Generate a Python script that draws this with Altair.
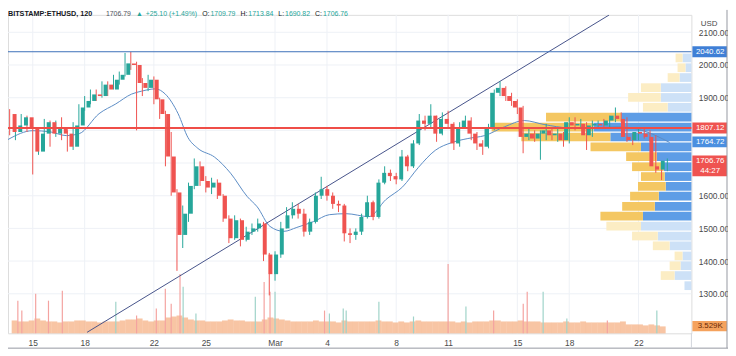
import altair as alt
import pandas as pd

FONT = "Liberation Sans"

# ---------------- data ----------------
# 8-hour candles (resampled view of the 2h chart), first bar starts 2021-02-13 16:00
bar_start = "2021-02-13 16:00"
first_open = 1850
closes = [1795, 1815, 1840, 1805, 1735, 1790, 1825, 1790, 1810, 1790,
          1750, 1815, 1870, 1890, 1910, 1905, 1940, 1925, 1955, 1970,
          2005, 2000, 1945, 1930, 1955, 1895, 1850, 1720, 1610, 1480,
          1545, 1630, 1690, 1645, 1625, 1640, 1600, 1530, 1470, 1525,
          1465, 1490, 1500, 1515, 1420, 1360, 1420, 1500, 1540, 1560,
          1545, 1490, 1520, 1600, 1620, 1600, 1575, 1570, 1485, 1480,
          1490, 1535, 1580, 1535, 1640, 1670, 1660, 1650, 1720, 1690,
          1760, 1830, 1820, 1845, 1790, 1835, 1820, 1760, 1810, 1830,
          1790, 1760, 1750, 1805, 1915, 1930, 1905, 1890, 1870, 1780,
          1790, 1775, 1790, 1800, 1785, 1790, 1770, 1825, 1815, 1820,
          1785, 1815, 1820, 1815, 1830, 1845, 1835, 1780, 1770, 1795,
          1790, 1780, 1690, 1680, 1707]
highs = [1865, 1835, 1850, 1845, 1810, 1800, 1835, 1830, 1830, 1840,
         1800, 1825, 1880, 1905, 1925, 1925, 1950, 1950, 1970, 1980,
         2037, 2040, 2010, 1960, 1970, 1965, 1900, 1860, 1795, 1620,
         1570, 1640, 1714, 1705, 1660, 1655, 1650, 1605, 1540, 1540,
         1530, 1505, 1515, 1530, 1520, 1425, 1430, 1520, 1565, 1580,
         1575, 1560, 1530, 1610, 1658, 1630, 1610, 1585, 1575, 1500,
         1500, 1545, 1600, 1585, 1650, 1690, 1680, 1670, 1740, 1725,
         1770, 1850, 1845, 1880, 1845, 1855, 1860, 1825, 1825, 1845,
         1840, 1795, 1770, 1820, 1925, 1950, 1935, 1915, 1895, 1875,
         1810, 1800, 1800, 1820, 1810, 1805, 1795, 1840, 1840, 1835,
         1825, 1830, 1830, 1835, 1845, 1870, 1855, 1840, 1790, 1810,
         1805, 1800, 1785, 1700, 1714]
lows = [1785, 1770, 1805, 1795, 1665, 1725, 1785, 1750, 1780, 1770,
        1735, 1740, 1810, 1860, 1880, 1890, 1900, 1905, 1925, 1940,
        1965, 1985, 1800, 1905, 1920, 1880, 1835, 1690, 1600, 1370,
        1440, 1520, 1620, 1630, 1610, 1605, 1590, 1520, 1455, 1465,
        1445, 1460, 1480, 1490, 1400, 1295, 1340, 1410, 1500, 1530,
        1530, 1475, 1480, 1515, 1590, 1585, 1560, 1550, 1460, 1455,
        1465, 1480, 1530, 1525, 1530, 1635, 1645, 1635, 1645, 1675,
        1685, 1755, 1800, 1810, 1765, 1785, 1805, 1740, 1750, 1805,
        1770, 1740, 1725, 1745, 1800, 1905, 1890, 1875, 1850, 1730,
        1770, 1765, 1710, 1770, 1770, 1765, 1750, 1760, 1800, 1805,
        1740, 1780, 1805, 1805, 1810, 1825, 1825, 1765, 1755, 1770,
        1775, 1765, 1670, 1648, 1675]
bar_volume = [13, 12, 12, 13, 15, 13, 12, 12, 11, 12,
              12, 13, 13, 12, 12, 11, 12, 12, 12, 13,
              14, 14, 15, 13, 12, 13, 13, 16, 17, 18,
              16, 14, 13, 13, 12, 12, 12, 13, 14, 13,
              13, 12, 12, 12, 14, 16, 15, 14, 13, 12,
              12, 12, 12, 13, 12, 12, 12, 11, 13, 12,
              12, 12, 12, 12, 13, 12, 12, 11, 12, 11,
              12, 13, 12, 12, 12, 12, 12, 12, 11, 12,
              11, 12, 12, 12, 13, 13, 12, 12, 12, 13,
              12, 12, 12, 11, 11, 11, 11, 12, 11, 11,
              12, 11, 11, 11, 11, 11, 11, 12, 9, 9,
              9, 8, 9, 8, 7]

# volume spikes of single 2h bars (days after 2021-02-13 00:00)
spike_day = [1.14, 1.37, 2.17, 2.91, 3.71, 6.80, 8.00, 9.14, 9.66, 10.00,
             10.51, 10.69, 11.43, 14.86, 15.37, 15.71, 16.00, 18.86, 19.14, 19.94,
             20.11, 22.00, 24.00, 26.00, 27.03, 28.63, 30.34, 30.57, 31.49, 32.86,
             35.20, 38.06]
spike_vol = [33, 23, 40, 33, 43, 32, 18, 25, 45, 30,
             60, 47, 20, 37, 52, 42, 42, 23, 20, 25,
             23, 32, 17, 70, 27, 23, 30, 42, 42, 15,
             13, 23]
spike_dir = ["down", "down", "down", "down", "down", "up", "down", "down", "down", "down",
             "down", "up", "up", "up", "down", "down", "up", "down", "up", "up",
             "up", "up", "up", "down", "up", "down", "down", "down", "up", "up",
             "down", "up"]

# moving average
ma_day = [0.57, 2.0, 2.97, 3.94, 4.69, 5.83, 6.8, 7.71, 8.29, 9.09,
          9.66, 10.4, 10.97, 11.54, 12.51, 13.43, 14.4, 14.97, 15.71, 16.51,
          17.26, 18.23, 19.14, 20.11, 21.43, 22.4, 23.37, 24.29, 25.26, 26.23,
          27.14, 28.11, 29.26, 30.4, 31.54, 32.97, 34.4, 35.83, 37.26, 38.8]
ma_price = [1772, 1799, 1796, 1784, 1790, 1851, 1881, 1911, 1920, 1927,
            1911, 1851, 1778, 1745, 1718, 1669, 1597, 1566, 1506, 1491,
            1503, 1521, 1542, 1545, 1536, 1588, 1627, 1687, 1739, 1763,
            1775, 1784, 1811, 1830, 1818, 1808, 1808, 1811, 1799, 1763]

# trend line
trend_day = [5.14, 35.3]
trend_price = [1182, 2153]

# volume profile (row top price, up volume, down volume, inside value area)
profile_bin = 30.3
profile_top = [2035, 2005, 1975, 1944, 1914, 1884, 1854, 1823, 1793, 1763, 1733, 1702,
               1672, 1642, 1612, 1581, 1551, 1520, 1490, 1460, 1429, 1399, 1369, 1338]
profile_up = [7, 8, 12, 20, 33, 25, 76, 103, 90, 51, 31, 32,
              24, 28, 29, 33, 43, 35, 26, 17, 8, 11, 14, 0]
profile_down = [9, 6, 12, 31, 31, 24, 71, 99, 82, 51, 35, 28,
                27, 26, 33, 37, 49, 51, 34, 22, 9, 11, 17, 7]
profile_value_area = [0, 0, 0, 0, 0, 0, 1, 1, 1, 1, 1, 1,
                      1, 1, 1, 1, 1, 0, 0, 0, 0, 0, 0, 0]

level_price = [2040.62, 1807.12]
tag_price = [2040.62, 1807.12, 1764.72, 1706.76]
tag_text = ["2040.62", "1807.12", "1764.72", "1706.76"]
tag_color = ["#3f7fd6", "#ef5350", "#4a8fe0", "#ef5350"]
countdown_text = "44:27"
volume_tag_text = "3.529K"
volume_tag_level = 7

tick_day = [2, 5, 9, 12, 16, 19, 23, 26, 30, 33, 37]
tick_label = ["15", "18", "22", "25", "Mar", "4", "8", "11", "15", "18", "22"]
price_ticks = [1300, 1400, 1500, 1600, 1900, 2000, 2100]
grid_prices = [1300, 1400, 1500, 1600, 1700, 1800, 1900, 2000, 2100]

symbol_text = "BITSTAMP:ETHUSD, 120"
header_parts = [
    ("1706.79", "#50535e"), ("\u25b2", "#26a69a"), ("+25.10 (+1.49%)", "#26a69a"),
    ("O:", "#131722"), ("1709.79", "#26a69a"),
    ("H:", "#131722"), ("1713.84", "#26a69a"),
    ("L:", "#131722"), ("1690.82", "#26a69a"),
    ("C:", "#131722"), ("1706.76", "#26a69a"),
]

# ---------------- geometry ----------------
W, H = 691, 322
X0, X1 = 0.571, 40.057
Y0, Y1 = 1178.9, 2153.5
ppx = (Y1 - Y0) / H
UP, DOWN = "#26a69a", "#ef5350"
TAG_FS = 8

XS = alt.Scale(domain=[X0, X1], nice=False, zero=False)
YS = alt.Scale(domain=[Y0, Y1], nice=False, zero=False)
VS = alt.Scale(domain=[0, H], nice=False, zero=False)

# ---------------- frames ----------------
origin = pd.Timestamp("2021-02-13")
times = pd.date_range(bar_start, periods=len(closes), freq="8h")
opens = [first_open] + closes[:-1]
candles = pd.DataFrame({
    "day": (times - origin) / pd.Timedelta(days=1),
    "open": opens, "close": closes, "high": highs, "low": lows, "vol": bar_volume,
})
candles["col"] = [UP if c >= o else DOWN for o, c in zip(opens, closes)]
candles["zero"] = 0

spikes = pd.DataFrame({"day": spike_day, "vol": spike_vol,
                       "col": ["#9fd3c9" if d == "up" else "#f4a3a0" for d in spike_dir]})
spikes["zero"] = 0

rows = []
for top, u, d, va in zip(profile_top, profile_up, profile_down, profile_value_area):
    bot = top - profile_bin + 1.2 * ppx
    rows.append({"top": top, "bot": bot, "a": 0, "b": d,
                 "col": "#5e9de6" if va else "#cde1f7"})
    rows.append({"top": top, "bot": bot, "a": d, "b": d + u,
                 "col": "#f4c762" if va else "#fcedc4"})
profile = pd.DataFrame(rows)

tags = pd.DataFrame({"p": tag_price, "t": tag_text, "col": tag_color})
tags["top"] = tags["p"] + 5.5 * ppx
tags["bot"] = tags["p"] - 5.5 * ppx
tags.loc[3, "bot"] = tags.loc[3, "p"] - 15.5 * ppx

# ---------------- layers ----------------
def X(f):
    return alt.X(f, type="quantitative", scale=XS, axis=None)

def Y(f):
    return alt.Y(f, type="quantitative", scale=YS, axis=None)

label_expr = "[" + ",".join("'%s'" % s for s in tick_label) + "][indexof([" + \
    ",".join(str(d) for d in tick_day) + "], datum.value)]"

grid_v = alt.Chart(pd.DataFrame({"day": tick_day})).mark_rule(
    color="#eef1f6", strokeWidth=1).encode(
    x=alt.X("day:Q", scale=XS, axis=alt.Axis(
        values=tick_day, labelExpr=label_expr, ticks=False, domain=False, grid=False,
        labelPadding=5, labelFontSize=8.5, labelColor="#4a4a4a", labelFont=FONT,
        title=None, labelFlush=False, labelOverlap=False)))

grid_h = alt.Chart(pd.DataFrame({"p": grid_prices})).mark_rule(
    color="#eef1f6", strokeWidth=1).encode(
    y=alt.Y("p:Q", scale=YS, axis=alt.Axis(
        orient="right", values=price_ticks, format=".2f", ticks=False, domain=False,
        grid=False, labelPadding=7, labelFontSize=8.5, labelColor="#4a4a4a",
        labelFont=FONT, title=None, labelFlush=False, labelOverlap=False)))

prof = alt.Chart(profile).mark_rect().encode(
    x=alt.X("a:Q", scale=alt.Scale(domain=[0, W], reverse=True, nice=False, zero=False), axis=None),
    x2="b:Q", y=Y("top:Q"), y2="bot:Q",
    color=alt.Color("col:N", scale=None))

vol = alt.Chart(candles).mark_bar(size=5.9, opacity=0.75).encode(
    x=X("day:Q"), y=alt.Y("zero:Q", scale=VS, axis=None), y2="vol:Q",
    color=alt.value("#f5b285"))

spk = alt.Chart(spikes).mark_rule(strokeWidth=1.2).encode(
    x=X("day:Q"), y=alt.Y("zero:Q", scale=VS, axis=None), y2="vol:Q",
    color=alt.Color("col:N", scale=None))

ma = alt.Chart(pd.DataFrame({"day": ma_day, "p": ma_price})).mark_line(
    color="#5b8cc4", strokeWidth=1, interpolate="monotone").encode(x=X("day:Q"), y=Y("p:Q"))

trend = alt.Chart(pd.DataFrame({"day": trend_day, "p": trend_price})).mark_line(
    color="#46538a", strokeWidth=1, clip=True).encode(x=X("day:Q"), y=Y("p:Q"))

wicks = alt.Chart(candles).mark_rule(strokeWidth=1).encode(
    x=X("day:Q"), y=Y("low:Q"), y2="high:Q", color=alt.Color("col:N", scale=None))

bodies = alt.Chart(candles).mark_bar(size=4).encode(
    x=X("day:Q"), y=Y("open:Q"), y2="close:Q", color=alt.Color("col:N", scale=None))

lvl_blue = alt.Chart(pd.DataFrame({"p": [level_price[0]]})).mark_rule(
    color="#3d6fb8", strokeWidth=1).encode(y=Y("p:Q"))
lvl_red = alt.Chart(pd.DataFrame({"p": [level_price[1]]})).mark_rule(
    color="#ef4d47", strokeWidth=2).encode(y=Y("p:Q"))

tag_box = alt.Chart(tags).mark_rect().encode(
    x=alt.value(692), x2=alt.value(727), y=Y("top:Q"), y2="bot:Q",
    color=alt.Color("col:N", scale=None))
tag_txt = alt.Chart(tags).mark_text(color="white", fontSize=TAG_FS, font=FONT,
                                     baseline="middle", align="center").encode(
    x=alt.value(710), y=Y("p:Q"), text="t:N")
cd = alt.Chart(pd.DataFrame({"p": [tag_price[3] - 10 * ppx], "t": [countdown_text]})).mark_text(
    color="white", fontSize=TAG_FS, font=FONT, baseline="middle", align="center").encode(
    x=alt.value(710), y=Y("p:Q"), text="t:N")

vtag = pd.DataFrame({"v": [volume_tag_level], "lo": [volume_tag_level - 5],
                     "hi": [volume_tag_level + 5.5], "t": [volume_tag_text]})
vbox = alt.Chart(vtag).mark_rect(color="#f5a25d").encode(
    x=alt.value(692), x2=alt.value(727), y=alt.Y("lo:Q", scale=VS, axis=None), y2="hi:Q")
vtxt = alt.Chart(vtag).mark_text(color="#6b2a08", fontSize=TAG_FS, font=FONT,
                                 baseline="middle", align="center").encode(
    x=alt.value(710), y=alt.Y("v:Q", scale=VS, axis=None), text="t:N")


def label(text, x, y, color, weight="normal", size=7, align="left"):
    return alt.Chart(pd.DataFrame({"t": [text]})).mark_text(
        align=align, baseline="middle", fontSize=size, fontWeight=weight,
        color=color, font=FONT).encode(x=alt.value(x), y=alt.value(y), text="t:N")


# approximate Liberation Sans advance widths (em) to lay the header out in a row
ADV = {".": .278, ":": .278, " ": .278, "+": .584, "(": .333, ")": .333, "%": .889,
       "O": .778, "H": .722, "L": .556, "C": .722, "\u25b2": .7}


def text_width(s, size):
    return sum(ADV.get(ch, .556) for ch in s) * size


HSIZE = 7
usd = label("USD", 709, 9, "#4a4a4a", size=8, align="center")
header = [label(symbol_text, 0, -1, "#131722", "bold", size=7.3)]
hx = 99
for i, (t, c) in enumerate(header_parts):
    header.append(label(t, hx, -1, c, size=HSIZE))
    gap = 1 if t.endswith(":") else 5
    hx += text_width(t, HSIZE) + gap

one = pd.DataFrame({"a": [0]})
frame_b = alt.Chart(one).mark_rule(color="#9598a1", strokeWidth=1).encode(
    x=alt.value(0), x2=alt.value(728), y=alt.value(337))
frame_r = alt.Chart(one).mark_rule(color="#9598a1", strokeWidth=1).encode(
    x=alt.value(727), y=alt.value(-5), y2=alt.value(337))
sep = alt.Chart(one).mark_rule(color="#d1d4dc", strokeWidth=1).encode(
    x=alt.value(691), y=alt.value(322), y2=alt.value(337))

chart = alt.layer(
    grid_v, grid_h, prof, vol, spk, ma, trend, wicks, bodies, lvl_blue, lvl_red,
    tag_box, tag_txt, cd, vbox, vtxt, usd, *header, frame_b, frame_r, sep,
).resolve_scale(x="independent", y="independent").properties(
    width=W, height=H,
    padding={"left": 0, "top": 5, "right": 37, "bottom": 21},
    autosize=alt.AutoSizeParams(type="none"),
).configure_view(stroke=None).configure(background="white")

chart.save("out.html", embed_options={"renderer": "svg", "actions": False})
